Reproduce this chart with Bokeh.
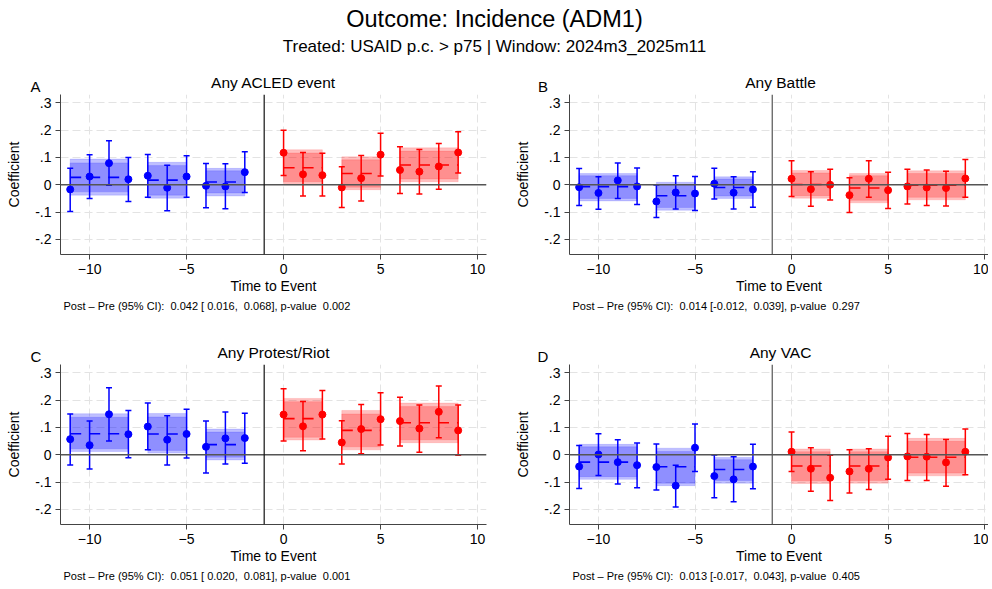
from bokeh.plotting import figure
from bokeh.models import (ColumnDataSource, Whisker, TeeHead, Span, FixedTicker,
                          Range1d, CustomJSTickFormatter, Title)
from bokeh.layouts import column, row
from bokeh.embed import file_html
from bokeh.resources import INLINE
from bokeh.core.properties import value

FONT = "Liberation Sans"
NB = "\u00a0"

# ---------------- data ----------------
periods = [-11, -10, -9, -8, -7, -6, -5, -4, -3, -2, 0, 1, 2, 3, 4, 5, 6, 7, 8, 9]
group_start = [-11, -7, -4, 0, 3, 6]
group_end = [-8, -5, -2, 2, 5, 9]

main_title = "Outcome: Incidence (ADM1)"
sub_title = "Treated: USAID p.c. > p75 | Window: 2024m3_2025m11"
panel_titles = ["Any ACLED event", "Any Battle", "Any Protest/Riot", "Any VAC"]
panel_letters = ["A", "B", "C", "D"]
footers = [
    f"Post \u2013 Pre (95% CI): {NB}0.042 [ 0.016, {NB}0.068], p-value {NB}0.002",
    f"Post \u2013 Pre (95% CI): {NB}0.014 [-0.012, {NB}0.039], p-value {NB}0.297",
    f"Post \u2013 Pre (95% CI): {NB}0.051 [ 0.020, {NB}0.081], p-value {NB}0.001",
    f"Post \u2013 Pre (95% CI): {NB}0.013 [-0.017, {NB}0.043], p-value {NB}0.405",
]
x_ticks = [-10, -5, 0, 5, 10]
y_ticks = [-0.2, -0.1, 0.0, 0.1, 0.2, 0.3]

# Panel A
A_coef = [-0.017, 0.030, 0.079, 0.020, 0.033, -0.011, 0.030, -0.004, -0.006, 0.046,
          0.117, 0.038, 0.035, -0.010, 0.024, 0.110, 0.054, 0.048, 0.067, 0.118]
A_hi = [0.060, 0.110, 0.161, 0.100, 0.111, 0.071, 0.106, 0.078, 0.077, 0.121,
        0.199, 0.118, 0.115, 0.066, 0.107, 0.188, 0.139, 0.129, 0.151, 0.194]
A_lo = [-0.098, -0.050, -0.002, -0.061, -0.046, -0.095, -0.046, -0.084, -0.088, -0.028,
        0.034, -0.041, -0.041, -0.083, -0.059, 0.032, -0.032, -0.034, -0.016, 0.043]
A_gmean = [0.027, 0.017, 0.010, 0.062, 0.041, 0.072]
A_ghi95 = [0.094, 0.082, 0.060, 0.128, 0.102, 0.135]
A_glo95 = [-0.038, -0.049, -0.041, 0.000, -0.018, 0.011]
A_ghi90 = [0.080, 0.070, 0.051, 0.116, 0.091, 0.123]
A_glo90 = [-0.026, -0.038, -0.030, 0.011, -0.009, 0.021]

# Panel B
B_coef = [-0.009, -0.030, 0.016, -0.006, -0.061, -0.028, -0.032, 0.004, -0.029, -0.017,
          0.022, -0.016, 0.000, -0.038, 0.022, -0.020, -0.006, -0.010, -0.012, 0.023]
B_hi = [0.059, 0.029, 0.080, 0.061, -0.001, 0.033, 0.030, 0.060, 0.029, 0.048,
        0.088, 0.048, 0.057, 0.026, 0.088, 0.046, 0.057, 0.054, 0.049, 0.092]
B_lo = [-0.076, -0.090, -0.050, -0.072, -0.120, -0.089, -0.094, -0.052, -0.089, -0.082,
        -0.043, -0.079, -0.056, -0.101, -0.046, -0.087, -0.070, -0.076, -0.078, -0.046]
B_gmean = [-0.007, -0.040, -0.010, 0.001, -0.012, -0.002]
B_ghi95 = [0.041, 0.009, 0.029, 0.052, 0.041, 0.051]
B_glo95 = [-0.059, -0.093, -0.050, -0.049, -0.066, -0.055]
B_ghi90 = [0.033, 0.000, 0.021, 0.043, 0.033, 0.041]
B_glo90 = [-0.050, -0.083, -0.041, -0.040, -0.057, -0.046]

# Panel C
C_coef = [0.057, 0.035, 0.148, 0.075, 0.103, 0.055, 0.076, 0.029, 0.060, 0.061,
          0.147, 0.104, 0.147, 0.045, 0.094, 0.130, 0.123, 0.096, 0.157, 0.089]
C_hi = [0.149, 0.123, 0.245, 0.162, 0.189, 0.143, 0.166, 0.123, 0.156, 0.152,
        0.241, 0.195, 0.235, 0.124, 0.184, 0.227, 0.210, 0.182, 0.251, 0.182]
C_lo = [-0.037, -0.052, 0.050, -0.011, 0.018, -0.037, -0.012, -0.067, -0.034, -0.031,
        0.050, 0.015, 0.058, -0.034, 0.004, 0.036, 0.032, 0.009, 0.062, -0.002]
C_gmean = [0.077, 0.076, 0.037, 0.132, 0.089, 0.117]
C_ghi95 = [0.150, 0.151, 0.094, 0.206, 0.162, 0.189]
C_glo95 = [0.012, 0.006, -0.019, 0.054, 0.018, 0.044]
C_ghi90 = [0.137, 0.138, 0.083, 0.194, 0.149, 0.176]
C_glo90 = [0.022, 0.016, -0.009, 0.064, 0.029, 0.055]

# Panel D
D_coef = [-0.043, 0.001, -0.027, -0.038, -0.045, -0.113, 0.026, -0.078, -0.090, -0.043,
          0.011, -0.051, -0.084, -0.061, -0.051, -0.010, -0.006, -0.007, -0.028, 0.011]
D_hi = [0.034, 0.077, 0.055, 0.043, 0.039, -0.038, 0.112, -0.001, -0.007, 0.038,
        0.083, 0.026, -0.002, 0.018, 0.022, 0.068, 0.078, 0.074, 0.056, 0.094]
D_lo = [-0.123, -0.076, -0.107, -0.121, -0.129, -0.191, -0.061, -0.157, -0.172, -0.124,
        -0.061, -0.133, -0.167, -0.140, -0.127, -0.090, -0.094, -0.094, -0.115, -0.073]
D_gmean = [-0.027, -0.044, -0.054, -0.041, -0.041, -0.009]
D_ghi95 = [0.038, 0.024, -0.010, 0.021, 0.021, 0.060]
D_glo95 = [-0.090, -0.113, -0.104, -0.105, -0.104, -0.077]
D_ghi90 = [0.029, 0.012, -0.018, 0.011, 0.011, 0.049]
D_glo90 = [-0.080, -0.104, -0.094, -0.095, -0.094, -0.067]

PRE_COLOR = "#0000ff"
POST_COLOR = "#ff0000"

LEFT_W, RIGHT_W = 512, 476
STRIP_H = 27
TOP_H, BOT_H = 243, 223


def make_strip(idx, width, letter_x, title_x):
    s = figure(width=width, height=STRIP_H, output_backend="svg", toolbar_location=None,
               x_range=Range1d(0, width), y_range=Range1d(0, STRIP_H),
               min_border=0, min_border_left=0, min_border_right=0,
               min_border_top=0, min_border_bottom=0)
    s.axis.visible = False
    s.grid.visible = False
    s.outline_line_color = None
    s.text(x=[title_x], y=[12.3], text=[panel_titles[idx]], text_align="center",
           text_baseline="middle", text_font=value(FONT), text_font_size="15.5px",
           text_color="black")
    s.text(x=[letter_x], y=[8.5], text=[panel_letters[idx]], text_align="center",
           text_baseline="middle", text_font=value(FONT), text_font_size="15px",
           text_color="black")
    return s


def make_panel(idx, coef, lo, hi, gmean, glo95, ghi95, glo90, ghi90,
               width, height, b_left, b_right, b_bottom, x_end, vline_color):
    p = figure(width=width, height=height, output_backend="svg", toolbar_location=None,
               x_range=Range1d(-11.5, x_end), y_range=Range1d(-0.255, 0.33),
               min_border_left=b_left, min_border_right=b_right,
               min_border_top=0, min_border_bottom=b_bottom)
    p.outline_line_color = None

    for ax in (p.xaxis[0], p.yaxis[0]):
        ax.axis_line_color = "#444444"
        ax.major_tick_line_color = "#444444"
        ax.major_tick_out = 5
        ax.major_tick_in = 0
        ax.minor_tick_line_color = None
        ax.major_label_text_font = FONT
        ax.major_label_text_font_size = "14px"
        ax.major_label_text_color = "black"
        ax.axis_label_text_font = FONT
        ax.axis_label_text_font_size = "14px"
        ax.axis_label_text_font_style = "normal"
        ax.axis_label_text_color = "black"
    p.xaxis.ticker = FixedTicker(ticks=x_ticks)
    p.yaxis.ticker = FixedTicker(ticks=y_ticks)
    p.yaxis.formatter = CustomJSTickFormatter(
        code="if (Math.abs(tick) < 1e-9) { return '0'; } return tick.toFixed(1).replace('0.', '.');")
    p.xaxis.axis_label = "Time to Event"
    p.yaxis.axis_label = "Coefficient"
    p.xaxis.major_label_standoff = 4
    p.xaxis.axis_label_standoff = 1
    p.yaxis.major_label_standoff = 4
    p.yaxis.axis_label_standoff = 10

    for g in (p.xgrid[0], p.ygrid[0]):
        g.grid_line_color = "#e3e3e3"
        g.grid_line_dash = "8 4"
        g.grid_line_width = 1

    gcol = [PRE_COLOR] * 3 + [POST_COLOR] * 3
    gsrc = ColumnDataSource(dict(l=group_start, r=group_end, m=gmean,
                                 lo95=glo95, hi95=ghi95, lo90=glo90, hi90=ghi90, c=gcol))
    p.quad(left="l", right="r", bottom="lo95", top="hi95", source=gsrc,
           fill_color="c", fill_alpha=0.25, line_color="c", line_alpha=0.12, line_width=1)
    p.quad(left="l", right="r", bottom="lo90", top="hi90", source=gsrc,
           fill_color="c", fill_alpha=0.25, line_color="c", line_alpha=0.12, line_width=1)
    p.segment(x0="l", x1="r", y0="m", y1="m", source=gsrc, line_color="c",
              line_width=1.6, line_dash="11 8")

    p.add_layout(Span(location=0, dimension="width", line_color="#555555", line_width=1.5))
    p.add_layout(Span(location=-1, dimension="height", line_color=vline_color, line_width=1.2))

    for sel, col in ((slice(0, 10), PRE_COLOR), (slice(10, 20), POST_COLOR)):
        src = ColumnDataSource(dict(x=periods[sel], y=coef[sel], lo=lo[sel], hi=hi[sel]))
        p.add_layout(Whisker(source=src, base="x", upper="hi", lower="lo",
                             line_color=col, line_width=1.5,
                             upper_head=TeeHead(size=6, line_color=col, line_width=1.5),
                             lower_head=TeeHead(size=6, line_color=col, line_width=1.5)))
        p.scatter(x="x", y="y", source=src, size=7, fill_color=col, line_color=col)

    p.add_layout(Title(text=footers[idx], align="left", offset=3, standoff=2,
                       text_font=FONT, text_font_size="11px", text_font_style="normal",
                       text_color="black"), "below")
    return p


pA = make_panel(0, A_coef, A_lo, A_hi, A_gmean, A_glo95, A_ghi95, A_glo90, A_ghi90,
                LEFT_W, TOP_H, 60, 26, 83, 10.46, "#111111")
pB = make_panel(1, B_coef, B_lo, B_hi, B_gmean, B_glo95, B_ghi95, B_glo90, B_ghi90,
                RIGHT_W, TOP_H, 55, 0, 83, 10.2, "#555555")
pC = make_panel(2, C_coef, C_lo, C_hi, C_gmean, C_glo95, C_ghi95, C_glo90, C_ghi90,
                LEFT_W, BOT_H, 60, 26, 63, 10.46, "#111111")
pD = make_panel(3, D_coef, D_lo, D_hi, D_gmean, D_glo95, D_ghi95, D_glo90, D_ghi90,
                RIGHT_W, BOT_H, 55, 0, 63, 10.2, "#555555")

sA = make_strip(0, LEFT_W, 35, 273)
sB = make_strip(1, RIGHT_W, 30.5, 268)
sC = make_strip(2, LEFT_W, 35.5, 273)
sD = make_strip(3, RIGHT_W, 30.5, 268)

HDR_H = 67
hdr = figure(width=LEFT_W + RIGHT_W, height=HDR_H, output_backend="svg", toolbar_location=None,
             x_range=Range1d(0, 1), y_range=Range1d(0, HDR_H),
             min_border=0, min_border_left=0, min_border_right=0,
             min_border_top=0, min_border_bottom=0)
hdr.axis.visible = False
hdr.grid.visible = False
hdr.outline_line_color = None
hdr.text(x=[0.5], y=[48.4], text=[main_title], text_align="center", text_baseline="middle",
         text_font=value(FONT), text_font_size="23.5px", text_color="black")
hdr.text(x=[0.5], y=[21.5], text=[sub_title], text_align="center", text_baseline="middle",
         text_font=value(FONT), text_font_size="17px", text_color="black")

layout = column(hdr, row(sA, sB), row(pA, pB), row(sC, sD), row(pC, pD))

with open("out.html", "w") as f:
    f.write(file_html(layout, INLINE))
